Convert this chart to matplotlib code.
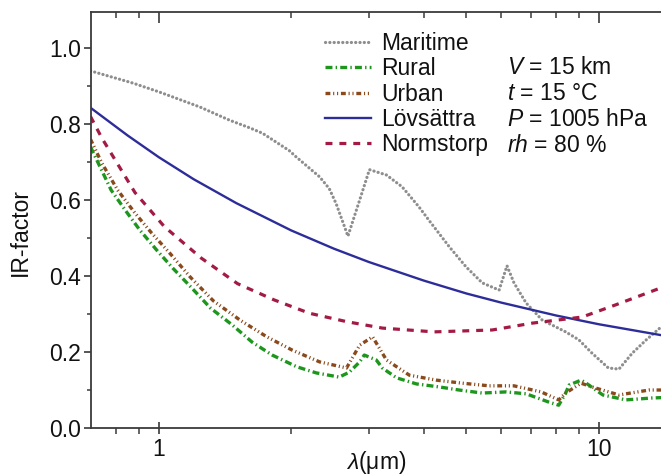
import matplotlib
matplotlib.use("Agg")
import matplotlib.pyplot as plt
import numpy as np
from matplotlib.ticker import FixedLocator, NullFormatter, FixedFormatter

plt.rcParams['font.family'] = ['Liberation Sans', 'DejaVu Sans']
plt.rcParams['mathtext.fontset'] = 'custom'
plt.rcParams['mathtext.rm'] = 'Liberation Sans'
plt.rcParams['mathtext.it'] = 'Liberation Sans:italic'
plt.rcParams['lines.scale_dashes'] = False

# ---- data (wavelength in um, IR-factor) ----
mar_x = [0.70, 0.873, 1.0, 1.24, 1.45, 1.61, 1.72, 1.98, 2.05, 2.32, 2.44, 2.53, 2.69,
         2.86, 3.01, 3.29, 3.57, 3.90, 4.12, 4.57, 4.99, 5.43, 5.93, 6.18, 6.41, 6.83,
         7.43, 8.4, 9.0, 9.64, 10.5, 11.1, 11.9, 12.8, 13.9]
mar_y = [0.94, 0.908, 0.885, 0.845, 0.81, 0.79, 0.776, 0.73, 0.714, 0.661, 0.63, 0.59, 0.505,
         0.60, 0.68, 0.666, 0.635, 0.582, 0.545, 0.477, 0.424, 0.382, 0.363, 0.427, 0.382, 0.329,
         0.284, 0.253, 0.232, 0.197, 0.158, 0.155, 0.197, 0.232, 0.268]

rur_x = [0.70, 0.78, 0.846, 0.906, 0.99, 1.076, 1.19, 1.31, 1.47, 1.63, 1.81, 2.06, 2.28,
         2.57, 2.71, 2.86, 2.93, 3.12, 3.22, 3.47, 3.85, 4.34, 4.81, 5.43, 6.15, 6.83,
         7.7, 8.1, 8.4, 8.55, 9.1, 9.35, 10.2, 11.5, 13.2, 13.9]
rur_y = [0.74, 0.626, 0.568, 0.521, 0.468, 0.421, 0.368, 0.316, 0.271, 0.226, 0.192, 0.161, 0.145,
         0.134, 0.147, 0.174, 0.192, 0.179, 0.158, 0.132, 0.116, 0.108, 0.10, 0.092, 0.095, 0.09,
         0.068, 0.06, 0.092, 0.113, 0.126, 0.118, 0.087, 0.074, 0.079, 0.08]

urb_x = [0.70, 0.743, 0.807, 0.883, 0.964, 1.06, 1.18, 1.33, 1.53, 1.76, 2.01, 2.32, 2.67,
         2.86, 3.06, 3.29, 3.71, 4.27, 4.89, 5.63, 6.41, 7.39, 8.1, 8.4, 9.1, 9.64,
         11.1, 13.0, 13.9]
urb_y = [0.76, 0.697, 0.626, 0.566, 0.513, 0.46, 0.397, 0.335, 0.284, 0.24, 0.205, 0.174, 0.158,
         0.218, 0.24, 0.179, 0.139, 0.126, 0.118, 0.111, 0.111, 0.095, 0.074, 0.092, 0.118, 0.108,
         0.087, 0.10, 0.10]

lov_x = [0.70, 0.85, 1.0, 1.2, 1.5, 2.0, 2.5, 3.0, 4.0, 5.0, 6.0, 8.0, 10.0, 13.9]
lov_y = [0.843, 0.770, 0.713, 0.655, 0.592, 0.520, 0.472, 0.437, 0.388, 0.354, 0.330, 0.296,
         0.273, 0.244]

nor_x = [0.70, 0.743, 0.883, 1.03, 1.25, 1.51, 1.83, 2.2, 2.67, 3.22, 4.22, 5.72, 7.05,
         9.15, 10.9, 13.9]
nor_y = [0.82, 0.763, 0.62, 0.53, 0.447, 0.38, 0.337, 0.302, 0.28, 0.263, 0.253, 0.258, 0.276,
         0.292, 0.324, 0.37]

labels = ['Maritime', 'Rural', 'Urban', 'Lövsättra', 'Normstorp']
params = ['$V$ = 15 km', '$t$ = 15 °C', '$P$ = 1005 hPa', '$rh$ = 80 %']

FS = 16.5
W, H = 661, 475
fig = plt.figure(figsize=(W / 100, H / 100), dpi=100)
left, right, top, bottom = 90.5, 662, 12, 428
ax = fig.add_axes([left / W, 1 - bottom / H, (right - left) / W, (bottom - top) / H])

ax.plot(mar_x, mar_y, color='#8e8e8e', lw=2.3, linestyle=(0, (0.1, 3.0)),
        dash_capstyle='round', label=labels[0])
ax.plot(rur_x, rur_y, color='#1e961e', lw=2.4, linestyle=(0, (5, 2.3, 1, 2.3)),
        label=labels[1])
ax.plot(urb_x, urb_y, color='#8a4a1c', lw=2.4, linestyle=(0, (3.5, 2, 0.8, 2, 0.8, 2)),
        label=labels[2])
ax.plot(lov_x, lov_y, color='#2d2d9a', lw=1.7, linestyle='-', label=labels[3])
ax.plot(nor_x, nor_y, color='#a31b45', lw=2.3, linestyle=(0, (5, 5)), label=labels[4])

ax.set_xscale('log')
ax.set_xlim(0.7, 13.9)
ax.set_ylim(0, 1.095)

ax.xaxis.set_major_locator(FixedLocator([1, 10]))
ax.xaxis.set_major_formatter(FixedFormatter(['1', '10']))
ax.xaxis.set_minor_locator(FixedLocator([0.8, 0.9, 2, 3, 4, 5, 6, 7, 8, 9]))
ax.xaxis.set_minor_formatter(NullFormatter())
ax.set_yticks([0.0, 0.2, 0.4, 0.6, 0.8, 1.0])
ax.set_yticklabels(['0.0', '0.2', '0.4', '0.6', '0.8', '1.0'])
ax.set_yticks(np.arange(0.1, 1.01, 0.2), minor=True)

spc = '#3a3a3a'
for s in ['left', 'bottom', 'top']:
    ax.spines[s].set_linewidth(1.3)
    ax.spines[s].set_color(spc)
ax.spines['right'].set_visible(False)

ax.tick_params(axis='both', which='both', colors=spc, labelcolor='#111111', labelsize=FS)
ax.tick_params(axis='x', which='major', direction='inout', length=8, width=1.2, top=True, pad=3)
ax.tick_params(axis='x', which='minor', direction='out', length=4, width=1.1, top=True)
ax.tick_params(axis='y', which='major', direction='out', length=5, width=1.2, right=True, pad=2)
ax.tick_params(axis='y', which='minor', direction='out', length=3, width=1.1, right=True)
for t in ax.xaxis.get_major_ticks() + ax.xaxis.get_minor_ticks():
    t.tick2line.set_marker(3)  # pointing down from top spine
for t in ax.yaxis.get_major_ticks() + ax.yaxis.get_minor_ticks():
    t.tick2line.set_marker(4)  # pointing left from right edge

fig.text(20 / W, 1 - 232 / H, 'IR-factor', fontsize=FS, rotation=90, ha='center', va='center',
         color='#111111')
fig.text(376 / W, 1 - 463 / H, r'$\lambda$(μm)', fontsize=FS, ha='center', va='center',
         color='#111111')

leg = ax.legend(loc='upper left',
                bbox_to_anchor=((325 - left) / (right - left), 1 - (32 - top) / (bottom - top)),
                frameon=False, fontsize=FS, handlelength=2.0, handletextpad=0.45,
                labelspacing=0.1, borderpad=0, borderaxespad=0)
for txt in leg.get_texts():
    txt.set_color('#111111')

for i, p in enumerate(params):
    y = 74.5 + i * 25.8
    fig.text(507 / W, 1 - y / H, p, fontsize=FS, va='baseline', ha='left', color='#111111')

fig.savefig('out.png', dpi=100)
